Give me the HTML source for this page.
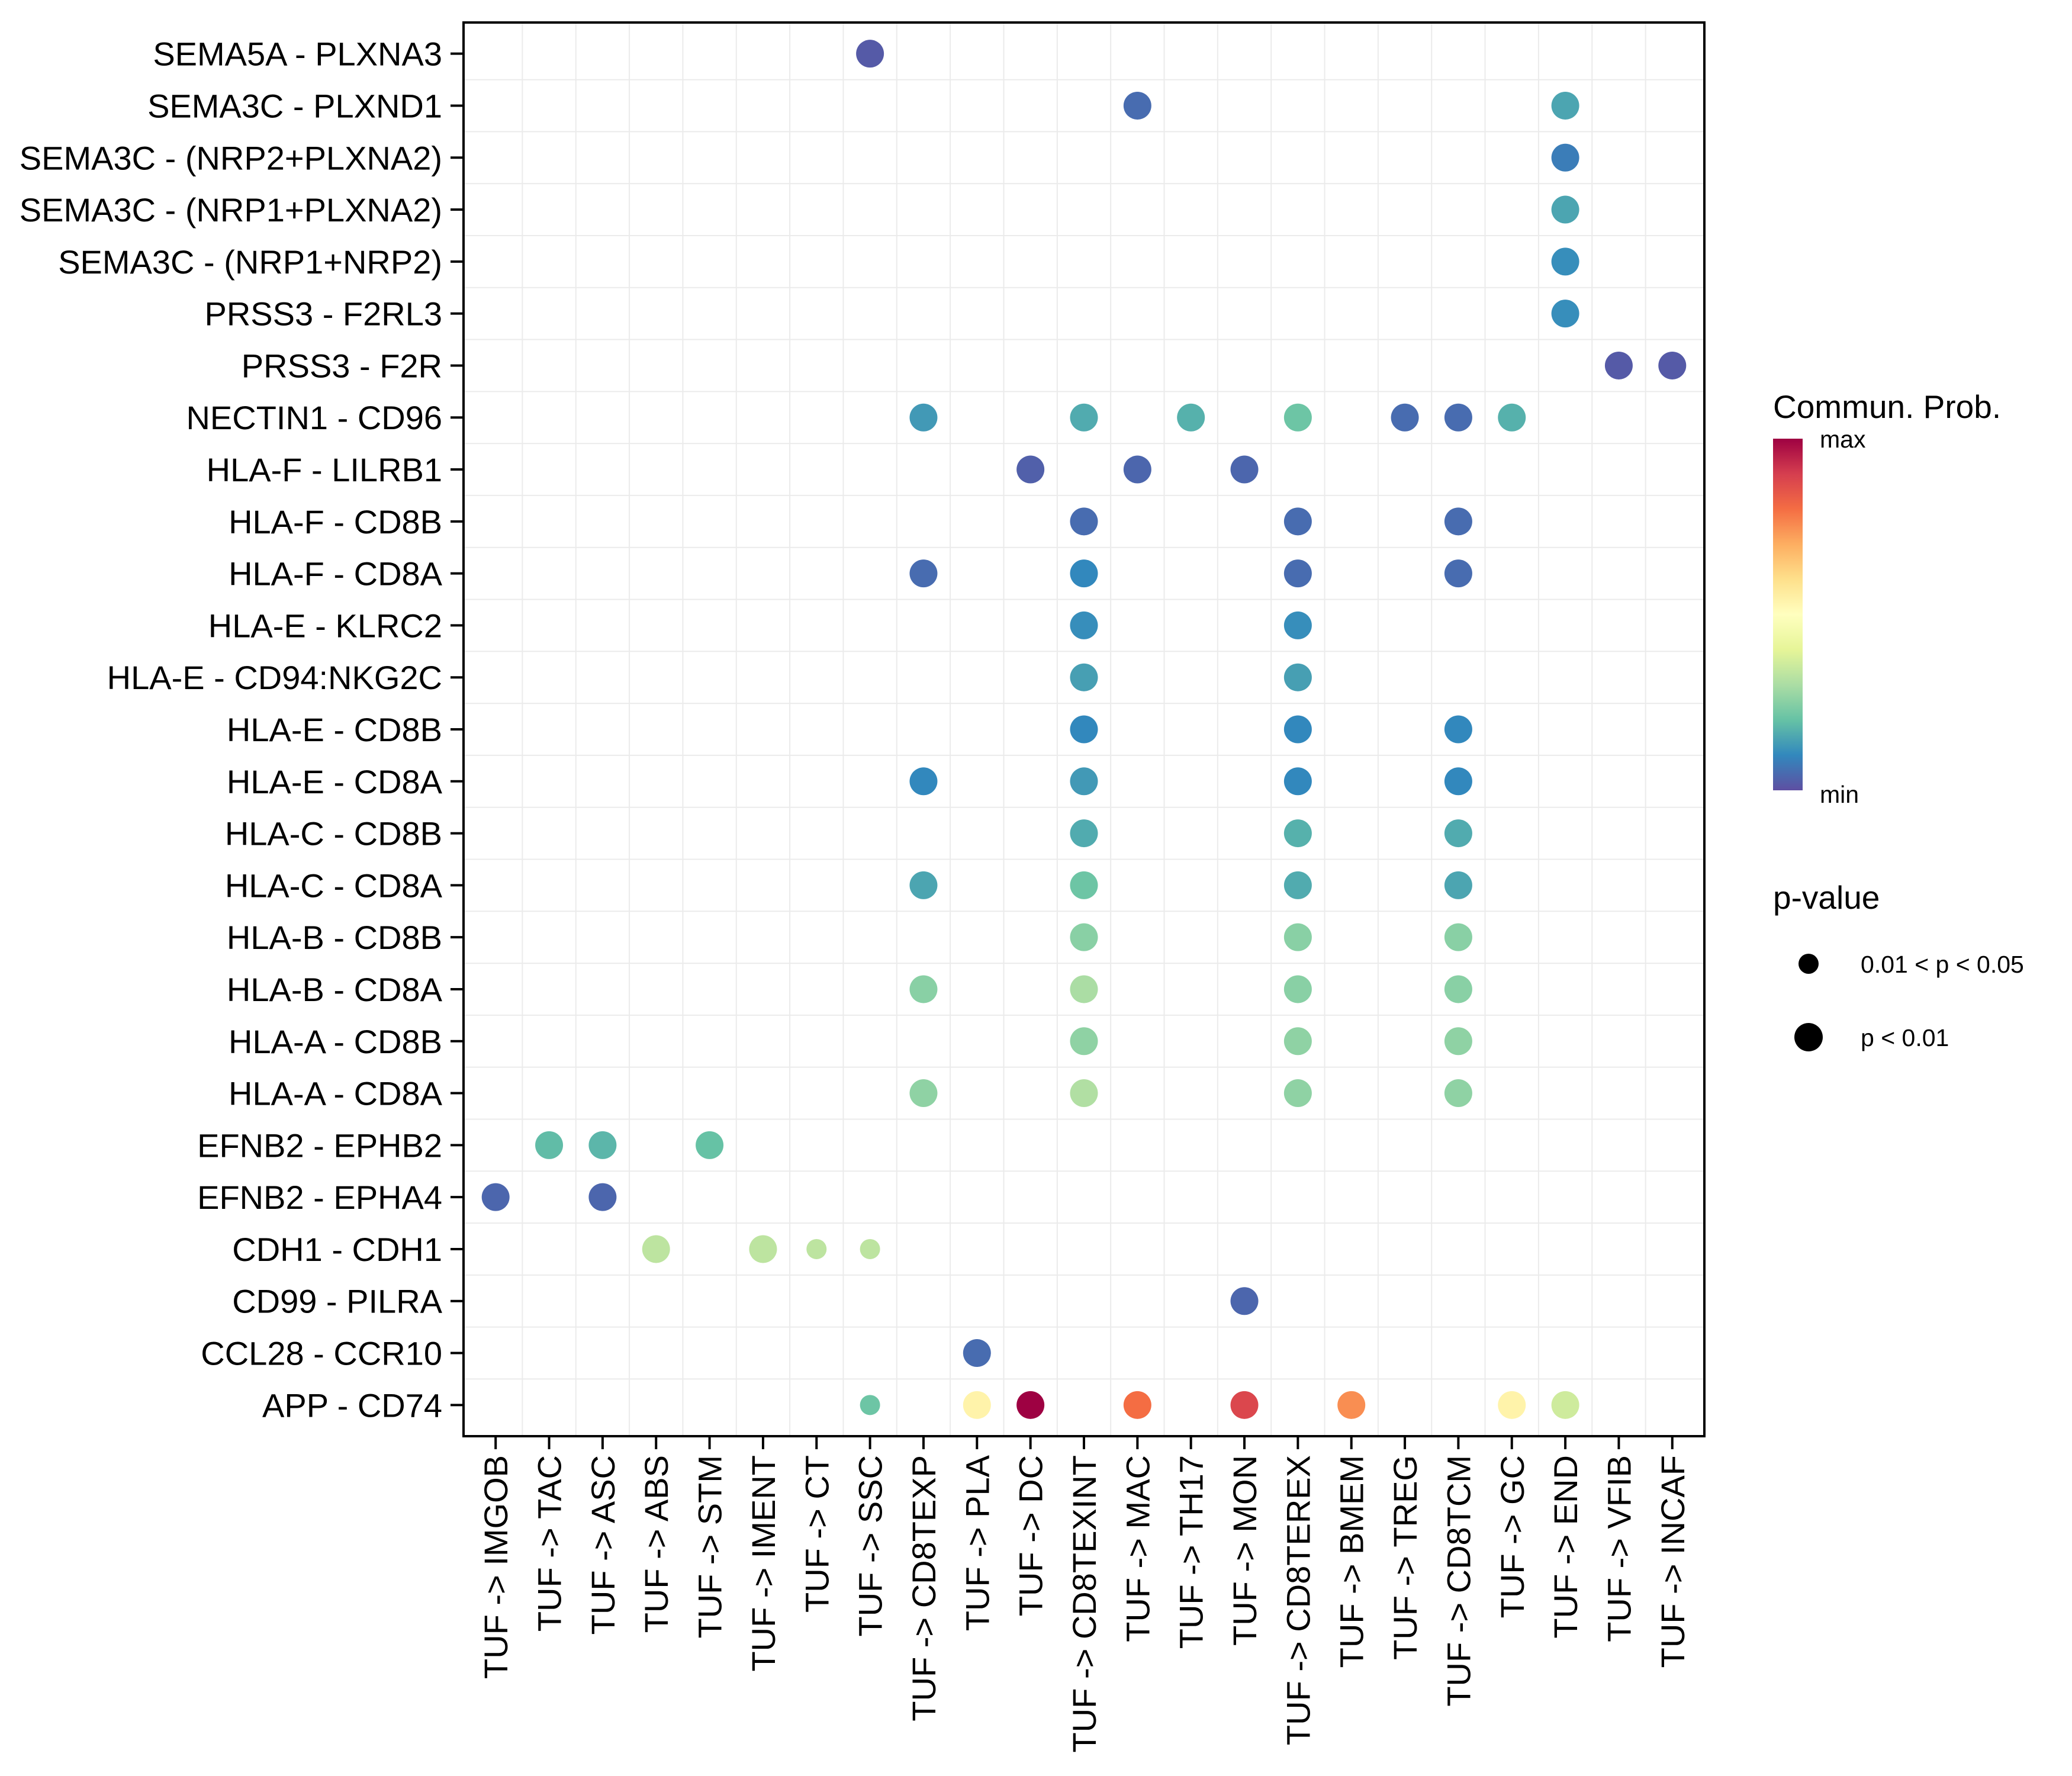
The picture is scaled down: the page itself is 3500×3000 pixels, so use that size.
<!DOCTYPE html>
<html><head><meta charset="utf-8"><style>
html,body{margin:0;padding:0;background:#fff;}
svg{display:block;font-family:"Liberation Sans",sans-serif;}
</style></head><body>
<svg id="chart" width="3500" height="3000" viewBox="0 0 3500 3000" xmlns="http://www.w3.org/2000/svg">
<defs>
<linearGradient id="spec" x1="0" y1="1" x2="0" y2="0">
<stop offset="0" stop-color="#5E4FA2"/><stop offset="0.1" stop-color="#3288BD"/><stop offset="0.2" stop-color="#66C2A5"/><stop offset="0.3" stop-color="#ABDDA4"/><stop offset="0.4" stop-color="#E6F598"/><stop offset="0.5" stop-color="#FFFFBF"/><stop offset="0.6" stop-color="#FEE08B"/><stop offset="0.7" stop-color="#FDAE61"/><stop offset="0.8" stop-color="#F46D43"/><stop offset="0.9" stop-color="#D53E4F"/><stop offset="1" stop-color="#9E0142"/>
</linearGradient>
</defs>
<g id="grid"></g>
<g id="dots"></g>
<rect x="783" y="38" width="2096" height="2388" fill="none" stroke="#000" stroke-width="4"/>
<g id="yaxis"></g>
<g id="xaxis"></g>
<g>
<text x="2995" y="706" font-size="55">Commun. Prob.</text>
<rect x="2995" y="741" width="50" height="594" fill="url(#spec)"/>
<text x="3074" y="756" font-size="41">max</text>
<text x="3074" y="1356" font-size="41">min</text>
</g>
<g>
<text x="2995" y="1535" font-size="55">p-value</text>
<circle cx="3055" cy="1628" r="17" fill="#000"/>
<text x="3143" y="1643" font-size="41">0.01 &lt; p &lt; 0.05</text>
<circle cx="3055" cy="1752" r="24" fill="#000"/>
<text x="3143" y="1767" font-size="41">p &lt; 0.01</text>
</g>
</svg>
<script>
const columns = ["TUF -> IMGOB","TUF -> TAC","TUF -> ASC","TUF -> ABS","TUF -> STM","TUF -> IMENT","TUF -> CT","TUF -> SSC","TUF -> CD8TEXP","TUF -> PLA","TUF -> DC","TUF -> CD8TEXINT","TUF -> MAC","TUF -> TH17","TUF -> MON","TUF -> CD8TEREX","TUF -> BMEM","TUF -> TREG","TUF -> CD8TCM","TUF -> GC","TUF -> END","TUF -> VFIB","TUF -> INCAF"];
const rows = ["SEMA5A - PLXNA3","SEMA3C - PLXND1","SEMA3C - (NRP2+PLXNA2)","SEMA3C - (NRP1+PLXNA2)","SEMA3C - (NRP1+NRP2)","PRSS3 - F2RL3","PRSS3 - F2R","NECTIN1 - CD96","HLA-F - LILRB1","HLA-F - CD8B","HLA-F - CD8A","HLA-E - KLRC2","HLA-E - CD94:NKG2C","HLA-E - CD8B","HLA-E - CD8A","HLA-C - CD8B","HLA-C - CD8A","HLA-B - CD8B","HLA-B - CD8A","HLA-A - CD8B","HLA-A - CD8A","EFNB2 - EPHB2","EFNB2 - EPHA4","CDH1 - CDH1","CD99 - PILRA","CCL28 - CCR10","APP - CD74"];
// each point: row index, column index
const pointRow = [0,1,1,2,3,4,5,6,6,7,7,7,7,7,7,7,8,8,8,9,9,9,10,10,10,10,11,11,12,12,13,13,13,14,14,14,14,15,15,15,16,16,16,16,17,17,17,18,18,18,18,19,19,19,20,20,20,20,21,21,21,22,22,23,23,23,23,24,25,26,26,26,26,26,26,26,26];
const pointCol = [7,12,20,20,20,20,20,21,22,8,11,13,15,17,18,19,10,12,14,11,15,18,8,11,15,18,11,15,11,15,11,15,18,8,11,15,18,11,15,18,8,11,15,18,11,15,18,8,11,15,18,11,15,18,8,11,15,18,1,2,4,0,2,3,5,6,7,14,9,7,9,10,12,14,16,19,20];
const prob = [0.02,0.05,0.15,0.08,0.15,0.11,0.11,0.02,0.02,0.13,0.16,0.17,0.21,0.05,0.05,0.17,0.03,0.04,0.04,0.05,0.05,0.05,0.05,0.10,0.05,0.05,0.11,0.11,0.14,0.14,0.10,0.10,0.10,0.10,0.13,0.10,0.10,0.16,0.17,0.16,0.15,0.21,0.16,0.15,0.25,0.25,0.25,0.25,0.30,0.25,0.25,0.26,0.26,0.26,0.26,0.31,0.26,0.26,0.19,0.18,0.20,0.04,0.04,0.33,0.33,0.33,0.33,0.04,0.05,0.21,0.54,1.0,0.80,0.88,0.75,0.54,0.36];
// 1 = p < 0.01 (large), 0 = 0.01 < p < 0.05 (small)
const pSig = [1,1,1,1,1,1,1,1,1,1,1,1,1,1,1,1,1,1,1,1,1,1,1,1,1,1,1,1,1,1,1,1,1,1,1,1,1,1,1,1,1,1,1,1,1,1,1,1,1,1,1,1,1,1,1,1,1,1,1,1,1,1,1,1,1,0,0,1,1,0,1,1,1,1,1,1,1];

const NS="http://www.w3.org/2000/svg";
const L=783,R=2879,T=38,B=2426;
const colStep=(R-L)/(columns.length-1+1.2), rowStep=(B-T)/(rows.length-1+1.2);
function xPos(i){return L+colStep*(0.6+i);}
function yPos(j){return T+rowStep*(0.6+j);}
const pal=["#5E4FA2","#3288BD","#66C2A5","#ABDDA4","#E6F598","#FFFFBF","#FEE08B","#FDAE61","#F46D43","#D53E4F","#9E0142"];
function hex(h){return [1,3,5].map(k=>parseInt(h.substr(k,2),16));}
function color(v){v=Math.max(0,Math.min(1,v));const p=v*10,i=Math.min(9,Math.floor(p)),f=p-i;const a=hex(pal[i]),b=hex(pal[i+1]);return "rgb("+a.map((c,k)=>Math.round(c+(b[k]-c)*f)).join(",")+")";}
function mk(tag,attrs,parent){const e=document.createElementNS(NS,tag);for(const k in attrs)e.setAttribute(k,attrs[k]);parent.appendChild(e);return e;}
const grid=document.getElementById('grid'),dots=document.getElementById('dots'),ya=document.getElementById('yaxis'),xa=document.getElementById('xaxis');
for(let i=0;i<columns.length-1;i++){
  const g=mk('line',{x1:xPos(i+0.5),x2:xPos(i+0.5),y1:T,y2:B,stroke:'#ebebeb','stroke-width':2},grid);
  
  
}
for(let j=0;j<rows.length-1;j++){
  const g=mk('line',{x1:L,x2:R,y1:yPos(j+0.5),y2:yPos(j+0.5),stroke:'#ebebeb','stroke-width':2},grid);
  
  
}
rows.forEach((r,j)=>{
  const y=yPos(j);
  const tk=mk('line',{x1:L-22,x2:L,y1:y,y2:y,stroke:'#000','stroke-width':4},ya);
  
  
  const t=mk('text',{x:L-36,y:y+20,'font-size':56,'text-anchor':'end',fill:'#000'},ya);
  t.textContent=r;
  
  
});
columns.forEach((c,i)=>{
  const x=xPos(i);
  const tk=mk('line',{x1:x,x2:x,y1:B,y2:B+22,stroke:'#000','stroke-width':4},xa);
  
  
  const t=mk('text',{x:0,y:0,'font-size':56,'text-anchor':'end',fill:'#000',transform:'translate('+(x+20)+','+(B+32)+') rotate(-90)'},xa);
  t.textContent=c;
  
  
});
prob.forEach((v,k)=>{
  const c=mk('circle',{cx:xPos(pointCol[k]),cy:yPos(pointRow[k]),r:pSig[k]?23.5:17,fill:color(v)},dots);
  
  
});
</script>
</body></html>
